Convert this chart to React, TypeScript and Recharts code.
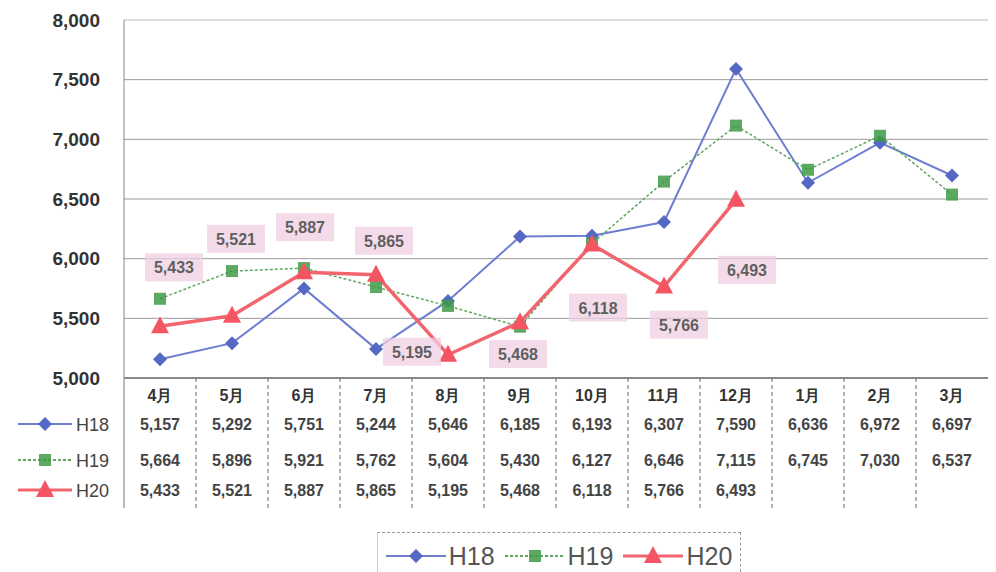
import React from "react";
import { LineChart, Line, XAxis, YAxis, CartesianGrid, Legend, LabelList, ReferenceLine } from "recharts";

const MONTHS = ["4月", "5月", "6月", "7月", "8月", "9月", "10月", "11月", "12月", "1月", "2月", "3月"];
const H18 = [5157, 5292, 5751, 5244, 5646, 6185, 6193, 6307, 7590, 6636, 6972, 6697];
const H19 = [5664, 5896, 5921, 5762, 5604, 5430, 6127, 6646, 7115, 6745, 7030, 6537];
const H20: (number | null)[] = [5433, 5521, 5887, 5865, 5195, 5468, 6118, 5766, 6493, null, null, null];
const Y_TICKS = [5000, 5500, 6000, 6500, 7000, 7500, 8000];

const SERIES = [
	{ key: "H18", values: H18, color: "#6f7fcf", marker: "#5568c4" },
	{ key: "H19", values: H19, color: "#62a862", marker: "#3f9a46" },
	{ key: "H20", values: H20, color: "#f2646e", marker: "#f45563" },
];

// where each H20 label box sits, relative to its point
const LABEL_OFFSETS = [
	[14, -59], [4, -77], [1, -45], [8, -34], [-36, -3], [-2, 32], [6, 63], [15, 38], [11, 70],
];

const FONT = '"Liberation Sans", Arial, sans-serif';
const fmt = (v: number | null) => (v == null ? "" : v.toLocaleString("en-US"));

const chartData = MONTHS.map((m, i) => ({ month: m, H18: H18[i], H19: H19[i], H20: H20[i] }));

function Marker({ kind, cx, cy, color }: { kind: string; cx: number; cy: number; color: string }) {
	if (kind === "H18") {
		const r = 7;
		return <polygon points={`${cx},${cy - r} ${cx + r},${cy} ${cx},${cy + r} ${cx - r},${cy}`} fill={color} />;
	}
	if (kind === "H19") {
		return <rect x={cx - 6} y={cy - 6} width={12} height={12} fill={color} opacity={0.85} />;
	}
	return <polygon points={`${cx},${cy - 10} ${cx + 9},${cy + 7} ${cx - 9},${cy + 7}`} fill={color} />;
}

function makeDot(kind: string, color: string) {
	return (props: any) => {
		const { cx, cy, index, value } = props;
		if (value == null || cx == null || cy == null) return <g key={`${kind}-${index}`} />;
		return (
			<g key={`${kind}-${index}`}>
				<Marker kind={kind} cx={cx} cy={cy} color={color} />
			</g>
		);
	};
}

function H20Label(props: any) {
	const { x, y, value, index } = props;
	if (value == null || x == null) return null;
	const off = LABEL_OFFSETS[index] || [0, -30];
	const cx = x + off[0];
	const cy = y + off[1];
	return (
		<g>
			<rect x={cx - 29} y={cy - 14} width={58} height={28} fill="#f0cfe2" opacity={0.75} />
			<text x={cx} y={cy + 6} textAnchor="middle" fontSize={16} fontFamily={FONT} fontWeight="bold" fill="#5f5f5f">
				{fmt(value)}
			</text>
		</g>
	);
}

function TableTick(props: any) {
	const { x, y, payload } = props;
	const i = MONTHS.indexOf(payload.value);
	const half = 36;
	const rowY = [46, 82, 112];
	return (
		<g fontFamily={FONT}>
			<text x={x} y={y + 23} textAnchor="middle" fontSize={16} fontWeight="bold" fill="#333">
				{payload.value}
			</text>
			{SERIES.map((s, r) => (
				<text key={s.key} x={x} y={y + rowY[r] + 6} textAnchor="middle" fontSize={16} fontWeight="bold" fill="#444">
					{fmt(s.values[i])}
				</text>
			))}
			{i < MONTHS.length - 1 && (
				<line x1={x + half} y1={y} x2={x + half} y2={y + 130} stroke="#666" strokeDasharray="4 3" />
			)}
			{i === 0 && (
				<g>
					<line x1={x - half} y1={y} x2={x - half} y2={y + 130} stroke="#777" />
					{SERIES.map((s, r) => (
						<g key={s.key}>
							<line x1={18} x2={72} y1={y + rowY[r]} y2={y + rowY[r]} stroke={s.color} strokeWidth={s.key === "H20" ? 3 : 2} strokeDasharray={s.key === "H19" ? "3 2" : undefined} />
							<Marker kind={s.key} cx={45} cy={y + rowY[r]} color={s.marker} />
							<text x={76} y={y + rowY[r] + 7} fontSize={18} fill="#444">
								{s.key}
							</text>
						</g>
					))}
				</g>
			)}
		</g>
	);
}

function LegendBox() {
	return (
		<div style={{ height: 40, display: "flex", justifyContent: "center" }}>
			<div
				style={{
					marginLeft: 130,
					borderTop: "1px dashed #999",
					borderLeft: "1px solid #ccc",
					borderRight: "1px dashed #999",
					padding: "7px 8px 0",
					display: "flex",
					gap: 10,
					alignItems: "center",
					fontFamily: FONT,
					fontSize: 25,
					color: "#555",
				}}
			>
				{SERIES.map((s) => (
					<div key={s.key} style={{ display: "flex", alignItems: "center", gap: 3 }}>
						<svg width={60} height={24}>
							<line x1={0} x2={60} y1={12} y2={12} stroke={s.color} strokeWidth={s.key === "H20" ? 3 : 2} strokeDasharray={s.key === "H19" ? "3 2" : undefined} />
							<Marker kind={s.key} cx={30} cy={12} color={s.marker} />
						</svg>
						<span>{s.key}</span>
					</div>
				))}
			</div>
		</div>
	);
}

export default function App() {
	return (
		<div style={{ position: "absolute", left: 0, top: 0, width: 996, height: 572, background: "#fff" }}>
			<LineChart width={996} height={572} data={chartData} margin={{ top: 20, right: 8, left: 0, bottom: 0 }}>
				<CartesianGrid horizontal vertical={false} stroke="#9a9a9a" />
				<XAxis
					dataKey="month"
					height={154}
					tickSize={0}
					tickMargin={0}
					interval={0}
					padding={{ left: 36, right: 36 }}
					axisLine={{ stroke: "#444" }}
					tick={<TableTick />}
				/>
				<YAxis
					domain={[5000, 8000]}
					ticks={Y_TICKS}
					width={124}
					tickSize={0}
					tickMargin={24}
					axisLine={{ stroke: "#888" }}
					tickFormatter={(v: number) => v.toLocaleString("en-US")}
					tick={{ fontSize: 19, fontWeight: "bold", fill: "#333", fontFamily: FONT }}
				/>
				<ReferenceLine y={8000} stroke="#ddd" strokeWidth={2} />
				<Legend verticalAlign="bottom" content={<LegendBox />} />
				<Line dataKey="H18" stroke="#6f7fcf" strokeWidth={2} dot={makeDot("H18", "#5568c4")} isAnimationActive={false} />
				<Line dataKey="H19" stroke="#62a862" strokeWidth={1.5} strokeDasharray="3 2" dot={makeDot("H19", "#3f9a46")} isAnimationActive={false} />
				<Line dataKey="H20" stroke="#f2646e" strokeWidth={3.5} dot={makeDot("H20", "#f45563")} isAnimationActive={false}>
					<LabelList dataKey="H20" content={<H20Label />} />
				</Line>
			</LineChart>
		</div>
	);
}
